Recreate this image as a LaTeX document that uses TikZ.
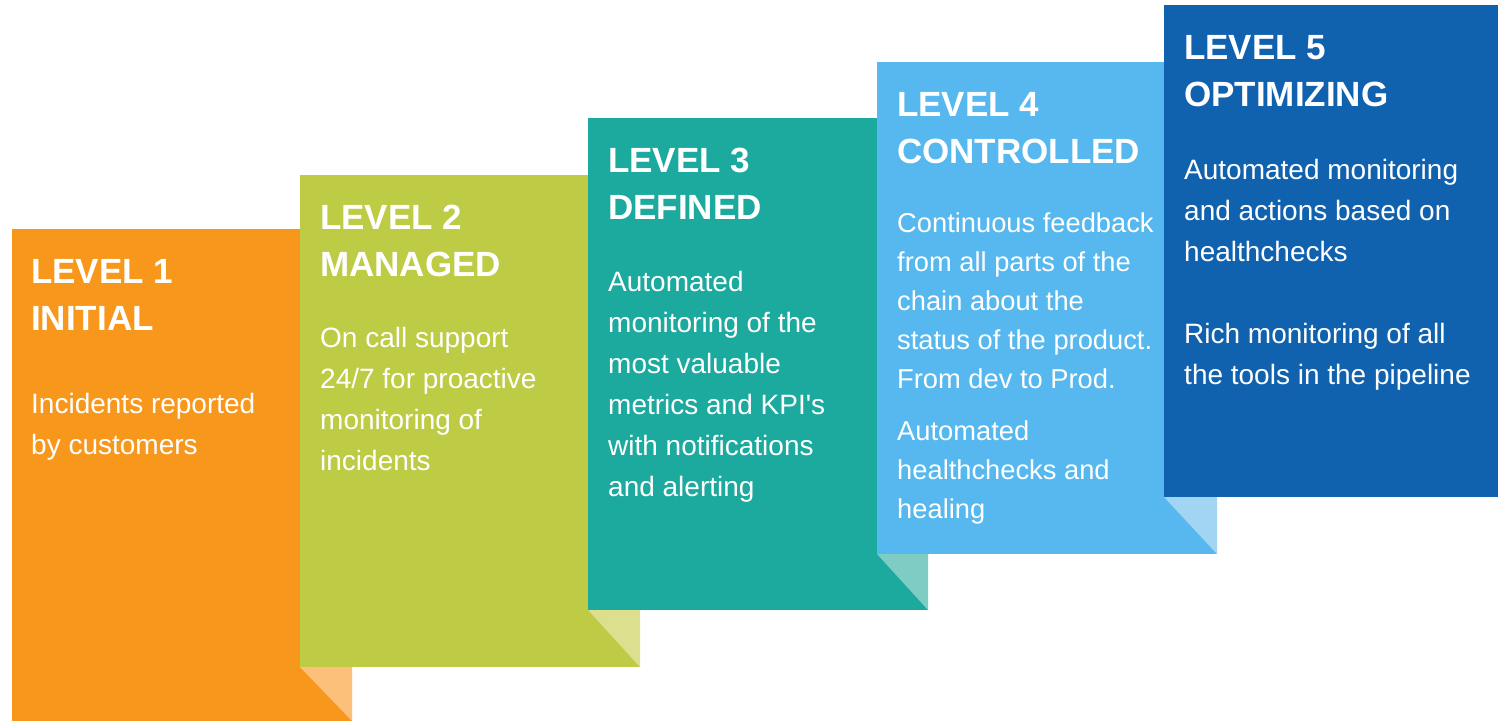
\documentclass[tikz,border=0pt]{standalone}
\usepackage{fontspec}
\setmainfont{Liberation Sans}
\usetikzlibrary{positioning}
\definecolor{lvlorange}{RGB}{247,152,29}
\definecolor{lvlorangelt}{RGB}{253,192,122}
\definecolor{lvlgreen}{RGB}{190,203,69}
\definecolor{lvlgreenlt}{RGB}{219,223,142}
\definecolor{lvlteal}{RGB}{28,169,158}
\definecolor{lvltealt}{RGB}{126,204,196}
\definecolor{lvlsky}{RGB}{86,184,238}
\definecolor{lvlskylt}{RGB}{162,213,244}
\definecolor{lvlblue}{RGB}{17,98,174}

\begin{document}
\begin{tikzpicture}[x=1pt,y=-1pt,
levelbox/.style={rectangle, anchor=north west, inner sep=0pt, outer sep=0pt, minimum width=340pt, minimum height=492pt},
headtext/.style={anchor=north west, inner sep=0pt, align=left, text=white, font=\fontsize{35}{47}\selectfont\bfseries},
bodytext/.style={anchor=north west, inner sep=0pt, align=left, text=white, font=\fontsize{28}{41}\selectfont},
]
\useasboundingbox (0,0) rectangle (1498,721);
\clip (0,0) rectangle (1498,721);

%Boxes
\node[levelbox, fill=lvlorange] (b1) at (12,229)  {};
\node[levelbox, fill=lvlgreen]  (b2) at (300,175) {};
\node[levelbox, fill=lvlteal]   (b3) at (588,118) {};
\node[levelbox, fill=lvlsky]    (b4) at (877,62)  {};
\node[levelbox, fill=lvlblue]   (b5) at (1164,5)  {};

%Folds
\fill[lvlorangelt] (b2.south west) -- (b1.south east |- b2.south west) -- (b1.south east) -- cycle;
\fill[lvlgreenlt]  (b3.south west) -- (b2.south east |- b3.south west) -- (b2.south east) -- cycle;
\fill[lvltealt]    (b4.south west) -- (b3.south east |- b4.south west) -- (b3.south east) -- cycle;
\fill[lvlskylt]    (b5.south west) -- (b4.south east |- b5.south west) -- (b4.south east) -- cycle;

%Texts
\node[headtext] (h1) at ([shift={(19,30)}]b1.north west) {LEVEL 1\\INITIAL};
\node[bodytext] (t1) at ([shift={(19,164)}]b1.north west) {Incidents reported\\by customers};

\node[headtext] (h2) at ([shift={(20,30)}]b2.north west) {LEVEL 2\\MANAGED};
\node[bodytext] (t2) at ([shift={(20,152)}]b2.north west) {On call support\\24/7 for proactive\\monitoring of\\incidents};

\node[headtext] (h3) at ([shift={(20,30)}]b3.north west) {LEVEL 3\\DEFINED};
\node[bodytext] (t3) at ([shift={(20,153)}]b3.north west) {Automated\\monitoring of the\\most valuable\\metrics and KPI\textquotesingle s\\with notifications\\and alerting};

\node[headtext] (h4) at ([shift={(20,30)}]b4.north west) {LEVEL 4\\CONTROLLED};
\node[bodytext, font=\fontsize{27.3}{39}\selectfont] (t4) at ([shift={(20,151)}]b4.north west) {Continuous feedback\\from all parts of the\\chain about the\\status of the product.\\From dev to Prod.\\[13pt]Automated\\healthchecks and\\healing};

\node[headtext] (h5) at ([shift={(20,30)}]b5.north west) {LEVEL 5\\OPTIMIZING};
\node[bodytext] (t5) at ([shift={(20,154)}]b5.north west) {Automated monitoring\\and actions based on\\healthchecks\\[41pt]Rich monitoring of all\\the tools in the pipeline};
\end{tikzpicture}
\end{document}
